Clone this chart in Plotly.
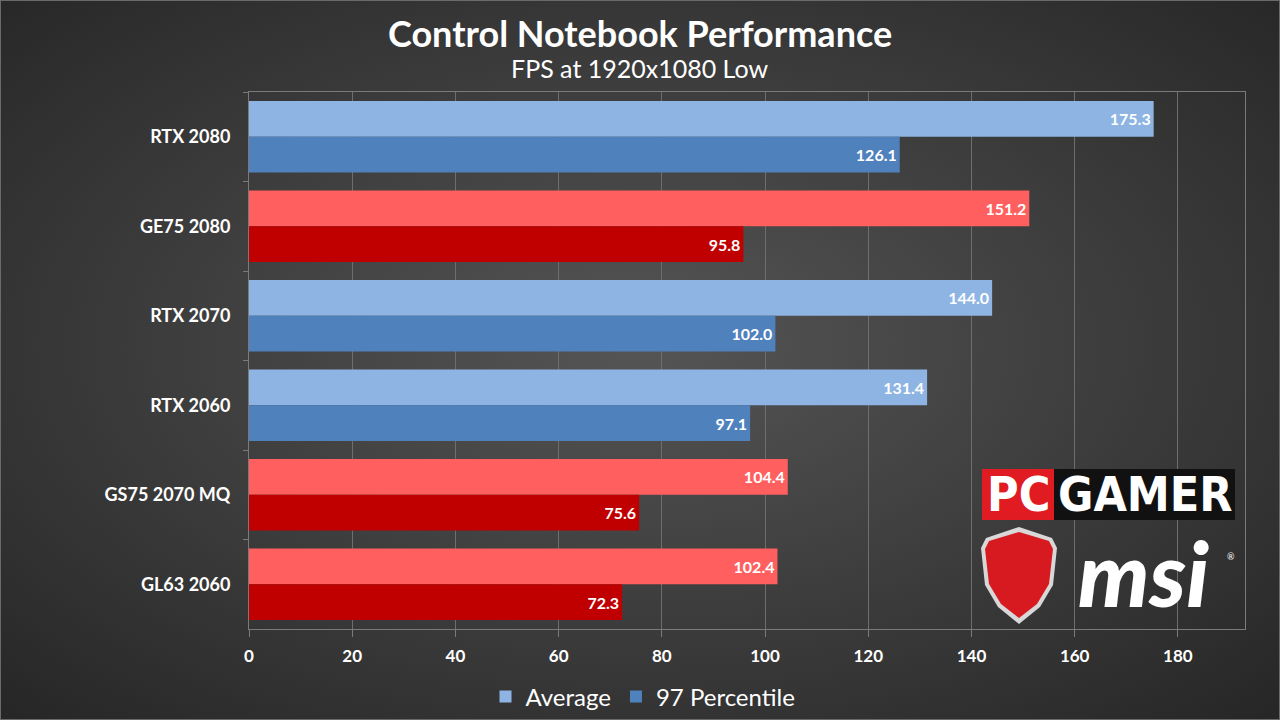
import base64
import plotly.graph_objects as go

# dados do gráfico
sistemas = ["RTX 2080", "GE75 2080", "RTX 2070", "RTX 2060", "GS75 2070 MQ", "GL63 2060"]
media = [175.3, 151.2, 144.0, 131.4, 104.4, 102.4]
percentil_97 = [126.1, 95.8, 102.0, 97.1, 75.6, 72.3]
eh_msi = [False, True, False, False, True, True]
ticks_x = [0, 20, 40, 60, 80, 100, 120, 140, 160, 180]

cor_media = ["#FF5F5F" if m else "#8DB4E3" for m in eh_msi]
cor_p97 = ["#C00000" if m else "#4F81BD" for m in eh_msi]

W, H = 1280, 720
L, R, T, B = 249, 35, 92, 91
pw, ph = W - L - R, H - T - B


def px(x):
    return (x - L) / pw


def py(y):
    return 1 - (y - T) / ph


fig = go.Figure()

fig.add_trace(go.Bar(
    y=sistemas, x=media, orientation="h", name="Average",
    marker=dict(color=cor_media, line=dict(width=0)),
    text=[f"{v:.1f}" for v in media], textposition="inside",
    insidetextanchor="end", textangle=0,
    textfont=dict(color="white", size=16, family="Lato", weight="bold"),
))
fig.add_trace(go.Bar(
    y=sistemas, x=percentil_97, orientation="h", name="97 Percentile",
    marker=dict(color=cor_p97, line=dict(width=0)),
    text=[f"{v:.1f}" for v in percentil_97], textposition="inside",
    insidetextanchor="end", textangle=0,
    textfont=dict(color="white", size=16, family="Lato", weight="bold"),
))

# fundo com gradiente radial (svg embutido)
svg = f"""<svg xmlns='http://www.w3.org/2000/svg' width='{W}' height='{H}'>
<defs><radialGradient id='g' cx='50%' cy='48%' r='75%'>
<stop offset='0%' stop-color='#555555'/><stop offset='100%' stop-color='#242424'/>
</radialGradient></defs>
<rect x='0' y='0' width='{W}' height='{H}' fill='url(#g)'/>
<rect x='0.5' y='0.5' width='{W-1}' height='{H-1}' fill='none' stroke='#6a6a6a' stroke-width='1'/>
</svg>"""
fundo = "data:image/svg+xml;base64," + base64.b64encode(svg.encode()).decode()

# escudo msi
escudo = [(1019, 527), (1052, 538), (1057, 548), (1053, 585), (1040, 607), (1019, 624),
          (998, 607), (985, 585), (981, 548), (986, 538)]
caminho = "M " + " L ".join(f"{px(a):.5f},{py(b):.5f}" for a, b in escudo) + " Z"
escudo_int = [(1019, 532), (1049, 541), (1053, 549), (1049, 584), (1037, 604), (1019, 618),
              (1001, 604), (989, 584), (985, 549), (989, 541)]
caminho_int = "M " + " L ".join(f"{px(a):.5f},{py(b):.5f}" for a, b in escudo_int) + " Z"

fig.update_layout(
    width=W, height=H,
    margin=dict(l=L, r=R, t=T, b=B, autoexpand=False),
    paper_bgcolor="#333333",
    plot_bgcolor="rgba(0,0,0,0)",
    barmode="group", bargap=0.2, bargroupgap=0,
    font=dict(family="Lato", color="white"),
    images=[dict(source=fundo, xref="paper", yref="paper",
                 x=px(0), y=py(0), sizex=W / pw, sizey=H / ph,
                 xanchor="left", yanchor="top", sizing="stretch", layer="below")],
    xaxis=dict(
        range=[0, 193], tickvals=ticks_x, ticktext=[str(t) for t in ticks_x],
        showgrid=True, gridcolor="#6e6e6e", gridwidth=1, zeroline=False,
        showline=True, linecolor="#7a7a7a", linewidth=1, mirror=True,
        ticks="outside", ticklen=7, tickcolor="#7a7a7a",
        tickfont=dict(size=17, color="white", family="Lato", weight="bold"),
        ticklabelstandoff=5, fixedrange=True,
    ),
    yaxis=dict(
        autorange="reversed", showgrid=False,
        showline=True, linecolor="#7a7a7a", linewidth=1, mirror=True,
        ticks="outside", ticklen=5, tickcolor="#7a7a7a", tickson="boundaries",
        tickfont=dict(size=18, color="white", family="Lato", weight="bold"),
        ticklabelstandoff=14, fixedrange=True,
    ),
    legend=dict(
        orientation="h", x=px(643), y=py(697), xanchor="center", yanchor="middle",
        font=dict(size=24, color="white", family="Lato"),
        bgcolor="rgba(0,0,0,0)", itemwidth=30,
    ),
    showlegend=True,
    annotations=[
        dict(text="<b>Control Notebook Performance</b>", xref="paper", yref="paper",
             x=px(640), y=py(33), xanchor="center", yanchor="middle", showarrow=False,
             font=dict(size=36, color="white", family="Lato")),
        dict(text="FPS at 1920x1080 Low", xref="paper", yref="paper",
             x=px(640), y=py(68), xanchor="center", yanchor="middle", showarrow=False,
             font=dict(size=25, color="white", family="Lato")),
        dict(text="<b>PC</b>", xref="paper", yref="paper",
             x=px(1018), y=py(494), xanchor="center", yanchor="middle", showarrow=False,
             font=dict(size=48, color="white", family="DejaVu Sans Condensed")),
        dict(text="<b>GAMER</b>", xref="paper", yref="paper",
             x=px(1145), y=py(494), xanchor="center", yanchor="middle", showarrow=False,
             font=dict(size=48, color="white", family="DejaVu Sans Condensed")),
        dict(text="<i>msi</i>", xref="paper", yref="paper",
             x=px(1143), y=py(572), xanchor="center", yanchor="middle", showarrow=False,
             font=dict(size=90, color="white", family="Lato", weight=900)),
        dict(text="®", xref="paper", yref="paper",
             x=px(1231), y=py(556), xanchor="center", yanchor="middle", showarrow=False,
             font=dict(size=9, color="white", family="Lato")),
    ],
    shapes=[
        dict(type="rect", xref="paper", yref="paper", x0=px(982), x1=px(1054),
             y0=py(520), y1=py(469), fillcolor="#E01B22", line=dict(width=0), layer="above"),
        dict(type="rect", xref="paper", yref="paper", x0=px(1054), x1=px(1235),
             y0=py(520), y1=py(469), fillcolor="#111111", line=dict(width=0), layer="above"),
        dict(type="path", xref="paper", yref="paper", path=caminho,
             fillcolor="#D8D8D8", line=dict(width=0), layer="above"),
        dict(type="path", xref="paper", yref="paper", path=caminho_int,
             fillcolor="#D71920", line=dict(width=0), layer="above"),
    ],
)

ajuste = """
document.documentElement.style.overflow='hidden';
document.body.style.margin='0';
document.body.style.overflow='hidden';
"""
fig.write_html("out.html", config={"displayModeBar": False}, post_script=ajuste)
